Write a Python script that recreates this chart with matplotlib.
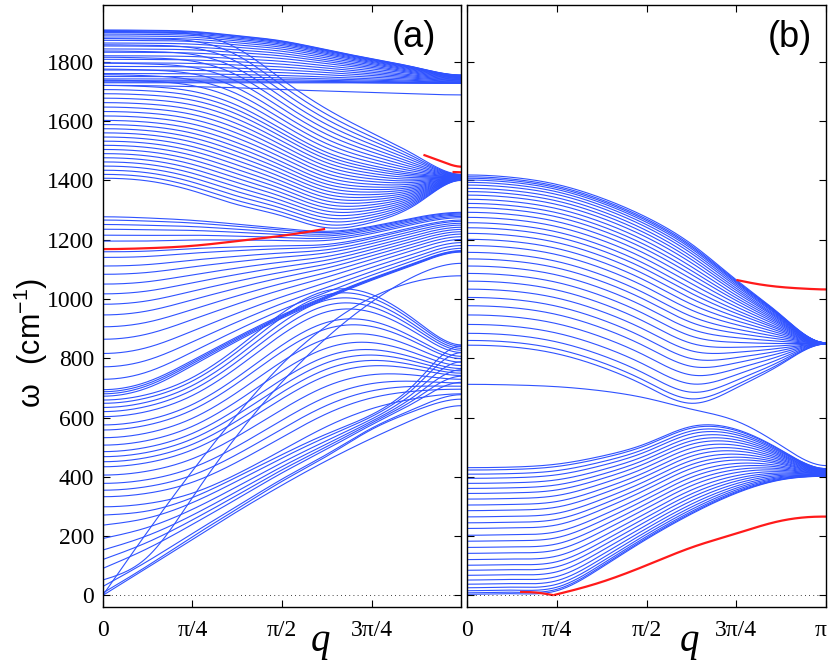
import numpy as np
import matplotlib
matplotlib.use("Agg")
import matplotlib.pyplot as plt

# q positions of the read-off knots (in units of pi)
QK = [0.0, 0.125, 0.25, 0.375, 0.5, 0.625, 0.75, 0.875, 1.0]

# ---------------- panel (a) ----------------
# top optical band (1730-1907 at q=0 -> 1727-1755 at q=pi)
a_top_v0 = [1729, 1732, 1736, 1742, 1750, 1760, 1772, 1784, 1796, 1808, 1820,
            1832, 1843, 1853, 1863, 1872, 1880, 1887, 1893, 1898, 1902, 1905, 1907]
a_top_lower = [1729, 1729, 1729, 1729, 1729, 1729, 1728, 1727, 1727]
a_top_upper = [1907, 1906, 1902, 1888, 1870, 1840, 1810, 1780, 1755]
# fan converging at ~1410 at q=pi
a_fan_v0 = [1407, 1420, 1434, 1448, 1462, 1476, 1490, 1504, 1518, 1532, 1546,
            1560, 1574, 1588, 1602, 1617, 1632, 1647, 1662, 1677, 1692, 1706,
            1720, 1738, 1756, 1775, 1795, 1815, 1836, 1857, 1878, 1900]
a_fan_lower = [1407, 1398, 1365, 1318, 1280, 1240, 1258, 1320, 1400]
a_fan_upper = [1900, 1899, 1893, 1845, 1740, 1640, 1560, 1482, 1420]
# single edge line below the top band
a_edge_hi = [1720, 1719, 1716, 1712, 1706, 1701, 1696, 1691, 1688]
# band ending at 1160-1292 at q=pi
a_mid_v0 = [672, 680, 687, 694, 729, 771, 816, 864, 906, 946, 982, 1017, 1050,
            1083, 1111, 1140, 1159, 1195, 1215, 1235, 1251, 1266, 1277]
a_mid_lower = [672, 700, 775, 858, 935, 1002, 1063, 1118, 1158]
a_mid_upper = [1277, 1273, 1265, 1252, 1238, 1228, 1245, 1275, 1292]
# arches peaking near 0.65 pi
a_arch_v0 = [299, 333, 355, 378, 406, 434, 451, 468, 485, 507, 532, 558, 575,
             603, 620, 634, 648, 659]
a_arch_lower = [299, 310, 345, 410, 490, 570, 630, 665, 680]
a_arch_upper = [659, 678, 735, 835, 952, 1028, 1015, 925, 845]
# low fan ending at 660-845
a_low_v0 = [8, 30, 91, 121, 153, 192, 237, 271]
a_low_lower = [8, 100, 198, 292, 385, 470, 560, 625, 662]
a_low_upper = [271, 285, 330, 400, 475, 545, 610, 720, 842]
# steep acoustic-like lines
a_la1 = [0, 215, 420, 610, 780, 910, 1005, 1060, 1078]
a_la2 = [52, 130, 330, 540, 720, 870, 990, 1080, 1120]
# lowest (transverse acoustic-like) line
a_ta = [0, 94, 189, 283, 372, 455, 530, 598, 640]
# red edge modes
a_red1_q = [0.0, 0.125, 0.25, 0.375, 0.5, 0.62]
a_red1_v = [1168, 1171, 1179, 1195, 1213, 1236]
a_red2_q = [0.894, 0.95, 1.0]
a_red2_v = [1486, 1461, 1446]
a_red3_q = [0.975, 1.0]
a_red3_v = [1428, 1427]

# ---------------- panel (b) ----------------
b_up_v0 = [844, 860, 884, 914, 946, 977, 1005, 1033, 1060, 1086, 1111, 1135,
           1157, 1180, 1201, 1221, 1240, 1257, 1275, 1292, 1308, 1322, 1336,
           1350, 1362, 1373, 1384, 1393, 1401, 1407, 1412, 1418]
b_up_lower = [844, 838, 815, 770, 705, 648, 700, 780, 848]
b_up_upper = [1418, 1410, 1386, 1340, 1275, 1185, 1064, 945, 852]
b_edge = [712, 710, 704, 690, 665, 628, 588, 505, 438]
b_lo_v0 = [4, 9, 16, 26, 38, 52, 68, 85, 102, 121, 142, 162, 183, 203, 226,
           245, 265, 286, 305, 325, 344, 361, 378, 395, 409, 423, 431]
b_lo_lower = [4, 6, 16, 95, 190, 275, 345, 390, 402]
b_lo_upper = [431, 433, 443, 470, 513, 570, 560, 490, 428]
b_red1_q = [0.147, 0.19, 0.24]
b_red1_v = [12, 10, 1]
b_red2_q = [0.24, 0.36, 0.5, 0.63, 0.75, 0.86, 0.96, 1.0]
b_red2_v = [1, 40, 102, 164, 209, 248, 265, 266]
b_red3_q = [0.75, 0.8, 0.875, 0.95, 1.0]
b_red3_v = [1064, 1052, 1040, 1034, 1032]

Y_TICKS = [0, 200, 400, 600, 800, 1000, 1200, 1400, 1600, 1800]
X_TICKS_A = ["0", "π/4", "π/2", "3π/4", ""]
X_TICKS_B = ["0", "π/4", "π/2", "3π/4", "π"]

BLUE = "#2f52ff"
RED = "#ff1a1a"
PI = np.pi


def spline(xk, yk, x, d0=0.0, d1=0.0):
    xk = np.asarray(xk, float)
    yk = np.asarray(yk, float)
    n = len(xk)
    if n == 2:
        return np.interp(x, xk, yk)
    h = np.diff(xk)
    A = np.zeros((n, n))
    b = np.zeros(n)
    for i in range(1, n - 1):
        A[i, i - 1] = h[i - 1]
        A[i, i] = 2 * (h[i - 1] + h[i])
        A[i, i + 1] = h[i]
        b[i] = 6 * ((yk[i + 1] - yk[i]) / h[i] - (yk[i] - yk[i - 1]) / h[i - 1])
    if d0 is None:
        A[0, 0] = 1
    else:
        A[0, 0] = 2 * h[0]
        A[0, 1] = h[0]
        b[0] = 6 * ((yk[1] - yk[0]) / h[0] - d0)
    if d1 is None:
        A[-1, -1] = 1
    else:
        A[-1, -2] = h[-1]
        A[-1, -1] = 2 * h[-1]
        b[-1] = 6 * (d1 - (yk[-1] - yk[-2]) / h[-1])
    M = np.linalg.solve(A, b)
    idx = np.clip(np.searchsorted(xk, x) - 1, 0, n - 2)
    x0, x1 = xk[idx], xk[idx + 1]
    hh = x1 - x0
    return (M[idx] * (x1 - x) ** 3 / (6 * hh) + M[idx + 1] * (x - x0) ** 3 / (6 * hh)
            + (yk[idx] / hh - M[idx] * hh / 6) * (x1 - x)
            + (yk[idx + 1] / hh - M[idx + 1] * hh / 6) * (x - x0))


def curve(ax, qk, vk, color=BLUE, lw=0.8, d0=0.0, d1=0.0, n=300):
    qk = np.asarray(qk) * PI
    q = np.linspace(qk[0], qk[-1], n)
    ax.plot(q, spline(qk, vk, q, d0, d1), color=color, lw=lw, solid_capstyle="butt")


def family(ax, v0s, lower, upper, d0=0.0, d1=0.0):
    lower = np.asarray(lower, float)
    upper = np.asarray(upper, float)
    for v in v0s:
        t = (v - lower[0]) / (upper[0] - lower[0])
        curve(ax, QK, lower + t * (upper - lower), d0=d0, d1=d1)


plt.rcParams["font.family"] = ["Liberation Serif", "DejaVu Serif"]
fig = plt.figure(figsize=(8.3, 6.6), dpi=100)
ax1 = fig.add_axes([0.1237, 0.0798, 0.4323, 0.9121])
ax2 = fig.add_axes([0.5630, 0.0798, 0.4323, 0.9121])

# panel (a)
family(ax1, a_top_v0, a_top_lower, a_top_upper)
family(ax1, a_fan_v0, a_fan_lower, a_fan_upper)
curve(ax1, QK, a_edge_hi)
family(ax1, a_mid_v0, a_mid_lower, a_mid_upper)
family(ax1, a_arch_v0, a_arch_lower, a_arch_upper)
family(ax1, a_low_v0, a_low_lower, a_low_upper, d0=None)
curve(ax1, QK, a_la1, d0=None)
curve(ax1, QK, a_la2, d0=None)
curve(ax1, QK, a_ta, d0=None)
curve(ax1, a_red1_q, a_red1_v, color=RED, lw=1.6, d0=0.0, d1=None)
curve(ax1, a_red2_q, a_red2_v, color=RED, lw=1.6, d0=None, d1=0.0)
curve(ax1, a_red3_q, a_red3_v, color=RED, lw=1.6)

# panel (b)
family(ax2, b_up_v0, b_up_lower, b_up_upper)
curve(ax2, QK, b_edge)
family(ax2, b_lo_v0, b_lo_lower, b_lo_upper)
curve(ax2, b_red1_q, b_red1_v, color=RED, lw=1.6, d0=None, d1=None)
curve(ax2, b_red2_q, b_red2_v, color=RED, lw=1.6, d0=None, d1=0.0)
curve(ax2, b_red3_q, b_red3_v, color=RED, lw=1.6, d0=None, d1=0.0)

xt = [0, PI / 4, PI / 2, 3 * PI / 4, PI]
for ax, labs in ((ax1, X_TICKS_A), (ax2, X_TICKS_B)):
    ax.axhline(0, color="black", lw=0.6, ls=(0, (1, 4)))
    ax.set_xlim(0, PI)
    ax.set_ylim(-40, 1990)
    ax.set_xticks(xt)
    ax.set_xticklabels(labs)
    ax.set_yticks(Y_TICKS)
    ax.tick_params(direction="in", length=5, width=0.8, top=True, right=True,
                   labelsize=17)
    ax.tick_params(axis="x", pad=9)
    ax.tick_params(axis="y", pad=6)
    for s in ax.spines.values():
        s.set_linewidth(1.0)
ax2.set_yticklabels([])
ax2.get_xticklabels()[-1].set_horizontalalignment("right")

ax1.text(0.868, 0.947, "(a)", transform=ax1.transAxes, ha="center", va="center",
         fontsize=26, family=["Liberation Sans", "DejaVu Sans"])
ax2.text(0.90, 0.947, "(b)", transform=ax2.transAxes, ha="center", va="center",
         fontsize=26, family=["Liberation Sans", "DejaVu Sans"])
ax1.text(0.606, -0.056, "q", transform=ax1.transAxes, ha="center", va="center",
         fontsize=28, style="italic")
ax2.text(0.62, -0.056, "q", transform=ax2.transAxes, ha="center", va="center",
         fontsize=28, style="italic")
fig.text(0.037, 0.48, r"$\mathregular{\omega\ \ (cm^{-1})}$", rotation=90,
         ha="center", va="center", fontsize=22, family=["Liberation Sans", "DejaVu Sans"])

fig.savefig("out.png", dpi=100)
